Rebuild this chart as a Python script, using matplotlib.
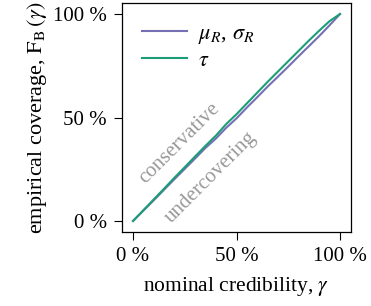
import matplotlib
matplotlib.use("Agg")
from matplotlib import pyplot as plt

plt.rcParams['font.family'] = ['Liberation Serif', 'DejaVu Serif']
plt.rcParams['mathtext.fontset'] = 'stix'

# nominal credibility (%) and empirical coverage (%) per parameter group
gamma = [0, 5, 10, 15, 20, 25, 30, 35, 40, 45, 50,
         55, 60, 65, 70, 75, 80, 85, 90, 95, 100]
cov_mu_sigma = [0, 5.0, 10.0, 15.1, 20.2, 25.2, 30.2, 35.3, 39.8, 45.0, 49.6,
                54.8, 59.8, 64.9, 69.7, 74.6, 79.6, 84.5, 89.4, 94.6, 100]
cov_tau = [0, 5.2, 10.4, 15.6, 20.9, 26.0, 31.2, 36.3, 41.2, 46.8, 51.6,
           56.8, 62.0, 67.2, 72.2, 77.2, 82.2, 87.2, 92.0, 96.6, 100]

series_labels = [r'$\mu_R$, $\sigma_R$', r'$\tau$']
colors = ['#7570b3', '#1b9e77']
ticks = [0, 50, 100]
tick_labels = ['0 %', '50 %', '100 %']

fig = plt.figure(figsize=(3.71, 3.06), dpi=100)
ax = fig.add_axes([0.329, 0.242, 0.617, 0.748])

for y, lab, c in zip([cov_mu_sigma, cov_tau], series_labels, colors):
    ax.plot(gamma, y, '-', color=c, lw=1.5, label=lab)

ax.set_xlim(-5.3, 105.3)
ax.set_ylim(-5.3, 105.3)
ax.set_xticks(ticks)
ax.set_xticklabels(tick_labels)
ax.set_yticks(ticks)
ax.set_yticklabels(tick_labels)
ax.tick_params(direction='out', length=6, width=0.8, labelsize=15, pad=5)
for s in ax.spines.values():
    s.set_linewidth(0.9)

text_kwargs = dict(fontsize=15, color='#999999', ha='center', va='center',
                   rotation=45, rotation_mode='anchor')
ax.text(22.7, 37.7, 'conservative', **text_kwargs)
ax.text(37.7, 20.8, 'undercovering', **text_kwargs)

ax.set_xlabel(r'nominal credibility, $\gamma$', fontsize=15.5, labelpad=6)
ax.set_ylabel(r'empirical coverage, $\mathrm{F}_\mathrm{B}\,(\gamma)$',
              fontsize=16, labelpad=3)

ax.legend(loc='upper left', frameon=False, fontsize=16, handlelength=2.0,
          handletextpad=0.5, borderaxespad=0.5, labelspacing=0.2)

fig.savefig('out.png', dpi=100)
